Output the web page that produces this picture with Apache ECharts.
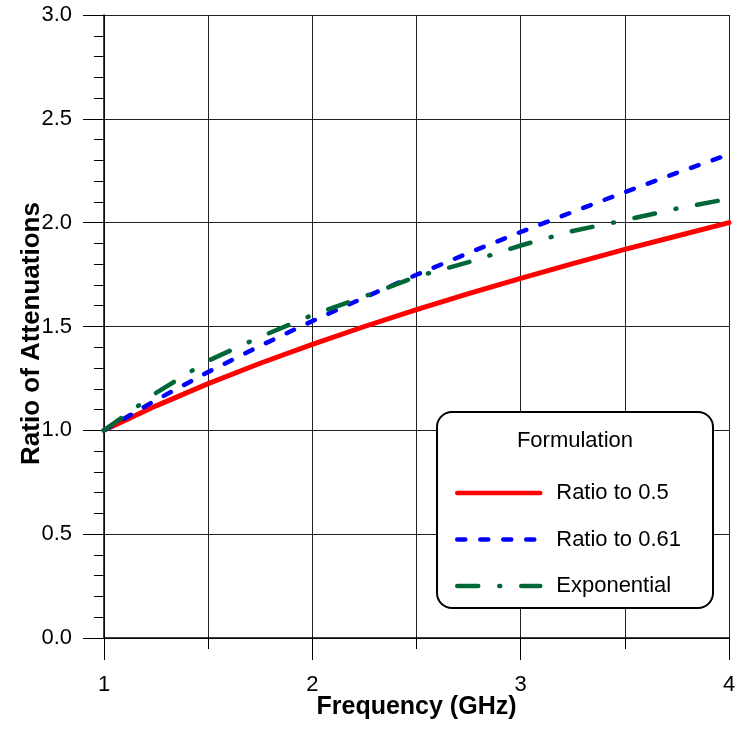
<!DOCTYPE html>
<html>
<head>
<meta charset="utf-8">
<script src="https://cdn.jsdelivr.net/npm/echarts@6/dist/echarts.min.js"></script>
<style>
html,body{margin:0;padding:0;background:#fff;}
#chart{width:740px;height:729px;}
</style>
</head>
<body>
<div id="chart"></div>
<script>
// Frequency values (GHz)
const frequencies = [1, 1.25, 1.5, 1.75, 2, 2.25, 2.5, 2.75, 3, 3.25, 3.5, 3.75, 4];
// Series values
const ratio05 = [1.0, 1.118, 1.225, 1.323, 1.414, 1.5, 1.581, 1.658, 1.732, 1.803, 1.871, 1.936, 2.0];
const ratio061 = [1.0, 1.146, 1.281, 1.407, 1.526, 1.640, 1.749, 1.854, 1.955, 2.052, 2.147, 2.240, 2.329];
const exponential = [1.0, 1.18, 1.335, 1.45, 1.555, 1.645, 1.74, 1.81, 1.89, 1.96, 2.012, 2.068, 2.115];
const seriesNames = ['Ratio to 0.5', 'Ratio to 0.61', 'Exponential'];
const legendTitle = 'Formulation';
const xTitle = 'Frequency (GHz)';
const yTitle = 'Ratio of Attenuations';

const FONT = '"Liberation Sans", Arial, sans-serif';
const pairs = ys => frequencies.map((x, i) => [x, ys[i]]);

const chart = echarts.init(document.getElementById('chart'), null, {renderer: 'canvas'});
const gridLine = {color: '#222', width: 1};
chart.setOption({
  animation: false,
  backgroundColor: '#fff',
  grid: {left: 104, right: 11, top: 15, bottom: 91, containLabel: false},
  xAxis: {
    type: 'value', min: 1, max: 4, interval: 1,
    name: xTitle, nameLocation: 'middle', nameGap: 57, nameMoveOverlap: false,
    nameTextStyle: {fontFamily: FONT, fontSize: 25, fontWeight: 'bold', color: '#000'},
    axisLine: {show: true, onZero: false, lineStyle: {color: '#000', width: 1.5}},
    axisTick: {show: true, inside: false, length: 22, lineStyle: {color: '#000', width: 1}},
    minorTick: {show: true, splitNumber: 2, length: 11, lineStyle: {color: '#000', width: 1}},
    axisLabel: {fontFamily: FONT, fontSize: 22, color: '#000', margin: 36},
    splitLine: {show: true, lineStyle: gridLine},
    minorSplitLine: {show: true, lineStyle: gridLine}
  },
  yAxis: {
    type: 'value', min: 0, max: 3, interval: 0.5,
    name: yTitle, nameLocation: 'middle', nameGap: 59, nameMoveOverlap: false,
    nameTextStyle: {fontFamily: FONT, fontSize: 26, fontWeight: 'bold', color: '#000', padding: [0, 14, 0, 0]},
    axisLine: {show: true, onZero: false, lineStyle: {color: '#000', width: 1.5}},
    axisTick: {show: true, inside: false, length: 21, lineStyle: {color: '#000', width: 1}},
    minorTick: {show: true, splitNumber: 5, length: 10, lineStyle: {color: '#000', width: 1}},
    axisLabel: {fontFamily: FONT, fontSize: 22, color: '#000', margin: 32, formatter: v => v.toFixed(1)},
    splitLine: {show: true, lineStyle: gridLine},
    minorSplitLine: {show: false}
  },
  legend: {
    orient: 'vertical', left: 450, top: 477, z: 20,
    itemWidth: 83, itemHeight: 20, itemGap: 24.5,
    data: seriesNames,
    itemStyle: {opacity: 0},
    lineStyle: {width: 4.5, cap: 'round'},
    textStyle: {fontFamily: FONT, fontSize: 22, color: '#000', padding: [0, 0, 0, 11]}
  },
  graphic: [
    {type: 'rect', z: 10, shape: {x: 437, y: 412, width: 276, height: 196, r: 15},
     style: {fill: '#fff', stroke: '#000', lineWidth: 2}},
    {type: 'text', z: 11, x: 575, y: 441,
     style: {text: legendTitle, font: '22px ' + FONT, fill: '#000', textAlign: 'center', textVerticalAlign: 'middle'}}
  ],
  series: [
    {name: seriesNames[0], type: 'line', data: pairs(ratio05), symbol: 'none', smooth: false,
     lineStyle: {color: '#ff0000', width: 5, cap: 'round', join: 'round'}, itemStyle: {color: '#ff0000'}},
    {name: seriesNames[1], type: 'line', data: pairs(ratio061), symbol: 'none', smooth: false,
     lineStyle: {color: '#0000ff', width: 4.5, type: [8, 15], cap: 'round', join: 'round'}, itemStyle: {color: '#0000ff'}},
    {name: seriesNames[2], type: 'line', data: pairs(exponential), symbol: 'none', smooth: false,
     lineStyle: {color: '#006837', width: 4.5, type: [21, 21, 1, 21], cap: 'round', join: 'round'}, itemStyle: {color: '#006837'}}
  ]
});
</script>
</body>
</html>
